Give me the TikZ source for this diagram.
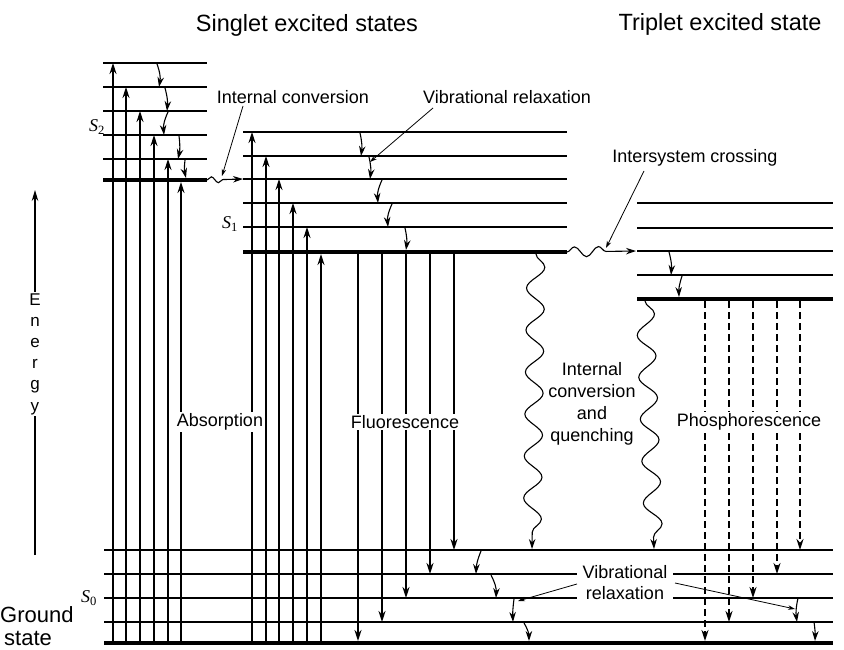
\documentclass[tikz,border=0pt]{standalone}
\usepackage{fontspec}
\setmainfont{Liberation Sans}
\newfontfamily\timesfont{Liberation Serif}
\usetikzlibrary{arrows.meta,decorations.pathmorphing}

\begin{document}
\begin{tikzpicture}[
  x=1pt, y=-1pt,
  level/.style={line width=1.2pt},
  lowest/.style={line width=3.8pt},
  absorb/.style={-{Stealth[length=11pt,width=7pt]}, line width=1.3pt},
  fluor/.style={-{Stealth[length=11pt,width=7pt]}, line width=2.1pt},
  phos/.style={fluor, line width=2.6pt, dash pattern=on 7pt off 4pt},
  relax/.style={-{Stealth[length=10pt,width=6.5pt]}, line width=1.1pt},
  pointer/.style={-{Stealth[length=7pt,width=4.5pt]}, line width=0.8pt},
  wavy/.style={-{Stealth[length=10pt,width=6.5pt]}, line width=1.1pt, decorate,
    decoration={snake, amplitude=#1}},
  lbl/.style={font=\fontsize{18}{22}\selectfont, align=center, inner sep=1.5pt},
  gaplbl/.style={lbl, fill=white},
  title/.style={font=\fontsize{23.5}{27}\selectfont},
  statelbl/.style={font=\timesfont\fontsize{18}{20}\selectfont, inner sep=0pt}
]
  \useasboundingbox (0,0) rectangle (844,650);

  % titles
  \node[title] (singlet) at (307,25) {Singlet excited states};
  \node[title] (triplet) at (720,24) {Triplet excited state};

  % energy axis
  \coordinate (ebot) at (35,555);
  \coordinate (etop) at (35,190);
  \draw[-{Stealth[length=11pt,width=6.5pt]}, line width=1.1pt] (ebot) -- (etop);
  \node[font=\fontsize{17}{21.2}\selectfont, align=center, fill=white, inner sep=1pt]
    (energy) at (35,354) {E\\n\\e\\r\\g\\y};

  % S2 levels
  \foreach \y in {63,87,111,135,159}
    \draw[level] (103,\y) -- (207,\y);
  \draw[lowest] (103,180) -- (207,180);
  \node[statelbl] (s2) at (97,127) {\itshape S\textsubscript{\upshape 2}};

  % S1 levels
  \foreach \y in {132,156,179,203,227}
    \draw[level] (243,\y) -- (567,\y);
  \draw[lowest] (243,252) -- (567,252);
  \node[statelbl] (s1) at (230,224) {\itshape S\textsubscript{\upshape 1}};

  % T1 levels
  \foreach \y in {203,228,251,275}
    \draw[level] (637,\y) -- (833,\y);
  \draw[lowest] (637,299) -- (833,299);

  % S0 levels
  \foreach \y in {550,622}
    \draw[level] (104,\y) -- (833,\y);
  \foreach \y in {574,598} {
    \draw[level] (104,\y) -- (577,\y);
    \draw[level] (673,\y) -- (833,\y);
  }
  \draw[lowest] (104,643) -- (833,643);
  \node[statelbl] (s0) at (89,598) {\itshape S\textsubscript{\upshape 0}};
  \node[font=\fontsize{22}{25}\selectfont, anchor=base west, inner sep=0pt] (ground) at (0,622) {Ground};
  \node[font=\fontsize{22}{25}\selectfont, anchor=base west, inner sep=0pt] (state) at (4,645) {state};

  % absorption
  \foreach \x/\y in {113/63,126/87,140/111,154/135,168/159,181/182}
    \draw[absorb] (\x,641) -- (\x,\y);
  \foreach \x/\y in {252/132,266/156,279/179,293/203,307/227,321/254}
    \draw[absorb] (\x,641) -- (\x,\y);

  % vibrational relaxation in S2 and S1
  \draw[relax] (157,64) to[bend left=15] (159,87);
  \draw[relax] (165,88) to[bend left=10] (167,111);
  \draw[relax] (168,112) to[bend right=15] (164,135);
  \draw[relax] (179,136) to[bend left=10] (178,159);
  \draw[relax] (185,160) to[bend right=10] (186,178);
  \draw[relax] (360,133) to[bend left=10] (361,156);
  \draw[relax] (369,157) to[bend left=10] (370,179);
  \draw[relax] (382,180) to[bend right=15] (378,203);
  \draw[relax] (392,204) to[bend right=15] (388,227);
  \draw[relax] (405,228) to[bend left=10] (406,250);

  % internal conversion S2 -> S1
  \draw[wavy=3pt, decoration={segment length=14pt, post length=14pt}] (207,180) -- (243,179);

  % fluorescence
  \foreach \x/\y in {358/641,382/622,406/598,430/574,454/550}
    \draw[fluor] (\x,254) -- (\x,\y);

  % internal conversion and quenching
  \draw[wavy=9pt, decoration={segment length=42pt, post length=8pt}] (536,254) -- (532,549);
  \draw[wavy=9pt, decoration={segment length=42pt, post length=8pt}] (645,301) -- (654,549);

  % intersystem crossing
  \draw[wavy=5pt, decoration={segment length=24pt, post length=22pt}] (567,252) -- (636,251);

  % vibrational relaxation in T1
  \draw[relax] (669,252) to[bend left=10] (671,275);
  \draw[relax] (682,276) to[bend right=10] (679,297);

  % phosphorescence
  \foreach \x/\y in {705/641,729/622,753/598,777/574,800/550}
    \draw[phos] (\x,301) -- (\x,\y);

  % vibrational relaxation in S0
  \draw[relax] (481,551) to[bend right=10] (476,574);
  \draw[relax] (491,575) to[bend left=15] (496,598);
  \draw[relax] (514,599) to[bend right=5] (513,622);
  \draw[relax] (524,623) to[bend left=15] (529,641);
  \draw[relax] (798,598) to[bend right=10] (797,622);
  \draw[relax] (814,622) to[bend left=5] (815,641);

  % labels
  \node[gaplbl] (abs) at (220,422) {Absorption};
  \node[gaplbl] (fluo) at (405,422) {Fluorescence};
  \node[gaplbl] (phosph) at (749,422) {Phosphorescence};
  \node[lbl, font=\fontsize{18}{22}\selectfont] (icq) at (592,404) {Internal\\conversion\\and\\quenching};
  \node[lbl] (ic) at (293,97) {Internal conversion};
  \node[lbl] (vr) at (507,97) {Vibrational relaxation};
  \node[lbl] (isc) at (695,158) {Intersystem crossing};
  \node[lbl, font=\fontsize{18}{21}\selectfont] (vr0) at (625,583) {Vibrational\\relaxation};

  % pointers
  \coordinate (icp) at (243,106);
  \coordinate (vrp) at (433,108);
  \coordinate (iscp) at (644,171);
  \coordinate (vr0l) at (577,584);
  \coordinate (vr0r) at (675,583);
  \draw[pointer] (icp) -- (222,176);
  \draw[pointer] (vrp) -- (370,162);
  \draw[pointer] (iscp) -- (606,248);
  \draw[pointer] (vr0l) -- (518,601);
  \draw[pointer] (vr0r) -- (795,609);
\end{tikzpicture}
\end{document}
